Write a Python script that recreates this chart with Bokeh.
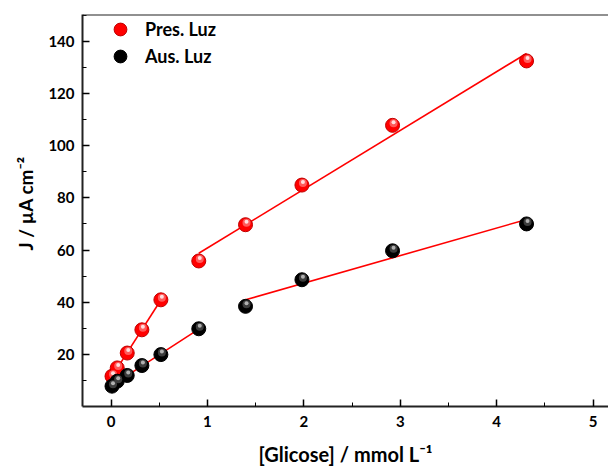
import numpy as np
from bokeh.plotting import figure
from bokeh.models import Range1d, FixedTicker, Legend, LegendItem, Span
from bokeh.embed import file_html
from bokeh.resources import INLINE

# data
glicose = [0.01, 0.064, 0.168, 0.32, 0.517, 0.91, 1.395, 1.98, 2.92, 4.31]
pres_luz = [11.6, 14.8, 20.5, 29.4, 40.9, 55.8, 69.7, 84.9, 107.8, 132.5]
aus_luz = [7.8, 9.7, 11.9, 15.7, 19.9, 29.8, 38.4, 48.6, 59.7, 70.0]
# linear-fit segments (index ranges into the arrays above)
pres_segments = [(0, 5), (5, 10)]
aus_segments = [(0, 6), (6, 10)]
x_ticks = [0, 1, 2, 3, 4, 5]
y_ticks = [20, 40, 60, 80, 100, 120, 140]
x_title = "[Glicose] / mmol L\u207b\u00b9"
y_title = "\u2003J / \u00b5A cm\u207b\u00b2"
series_names = ["Pres. Luz", "Aus. Luz"]

FONT = "Lato"
W, H = 608, 468
LEFT, TOP, BOTTOM = 82, 14, 61
x0, x1 = -0.296, 5.16
y0, y1 = 0, 150.3

p = figure(width=W, height=H, output_backend="svg", toolbar_location=None,
           x_range=Range1d(x0, x1), y_range=Range1d(y0, y1),
           min_border_left=LEFT, min_border_top=TOP, min_border_bottom=BOTTOM,
           min_border_right=0)
p.grid.visible = False
p.outline_line_color = None
p.background_fill_color = "white"
p.border_fill_color = "white"
p.add_layout(Span(location=y1, dimension="width", line_color="#222222", line_width=2))

gx = np.array(glicose)
for arr, segs in ((pres_luz, pres_segments), (aus_luz, aus_segments)):
    ya = np.array(arr)
    for a, b in segs:
        k, c = np.polyfit(gx[a:b], ya[a:b], 1)
        xs = np.array([gx[a], gx[b - 1]])
        p.line(xs, k * xs + c, line_color="#ff0000", line_width=1.6)

frame_h = H - TOP - BOTTOM
px_x = (x1 - x0) / (W - LEFT)
px_y = (y1 - y0) / frame_h

def balls(ys, base, edge, mid, hi):
    ys = np.array(ys)
    r1 = p.scatter(gx, ys, size=14, fill_color=base, line_color=edge, line_width=1)
    p.scatter(gx + 1.0 * px_x, ys + 2.0 * px_y, size=8, fill_color=mid, line_color=None)
    p.scatter(gx + 1.0 * px_x, ys + 3.0 * px_y, size=4, fill_color=hi, line_color=None)
    return r1

red_r = balls(pres_luz, "#ff0000", "#c00000", "#ff5a5a", "#ffe0e0")
blk_r = balls(aus_luz, "#000000", "#000000", "#3c3c3c", "#b0b0b0")

for i, (name, r) in enumerate(zip(series_names, [red_r, blk_r])):
    lg = Legend(items=[LegendItem(label=name, renderers=[r])],
                location=(22, frame_h - 32 - 27 * i), margin=0, padding=0, spacing=0,
                glyph_width=32, glyph_height=32, label_height=20, label_standoff=9,
                border_line_color=None, background_fill_alpha=0,
                label_text_font=FONT, label_text_font_style="bold",
                label_text_font_size="18px", label_text_color="black")
    p.add_layout(lg)

for ax in (p.xaxis[0], p.yaxis[0]):
    ax.axis_line_width = 2
    ax.axis_line_color = "#222222"
    ax.major_tick_line_width = 1.5
    ax.minor_tick_line_width = 1
    ax.major_tick_in = 7
    ax.major_tick_out = 0
    ax.minor_tick_in = 4
    ax.minor_tick_out = 0
    ax.major_label_text_font = FONT
    ax.major_label_text_font_style = "bold"
    ax.major_label_text_font_size = "15px"
    ax.major_label_text_color = "black"
    ax.axis_label_text_font = FONT
    ax.axis_label_text_font_style = "bold"
    ax.axis_label_text_color = "black"

p.xaxis.ticker = FixedTicker(ticks=x_ticks, minor_ticks=[0.5, 1.5, 2.5, 3.5, 4.5])
p.yaxis.ticker = FixedTicker(ticks=y_ticks, minor_ticks=[10, 30, 50, 70, 90, 110, 130, 150])
p.xaxis.major_label_standoff = 9
p.yaxis.major_label_standoff = 8
p.xaxis.axis_label = x_title
p.yaxis.axis_label = y_title
p.xaxis.axis_label_text_font_size = "20px"
p.yaxis.axis_label_text_font_size = "19px"
p.xaxis.axis_label_standoff = 12
p.yaxis.axis_label_standoff = 8

open("out.html", "w").write(file_html(p, INLINE))
